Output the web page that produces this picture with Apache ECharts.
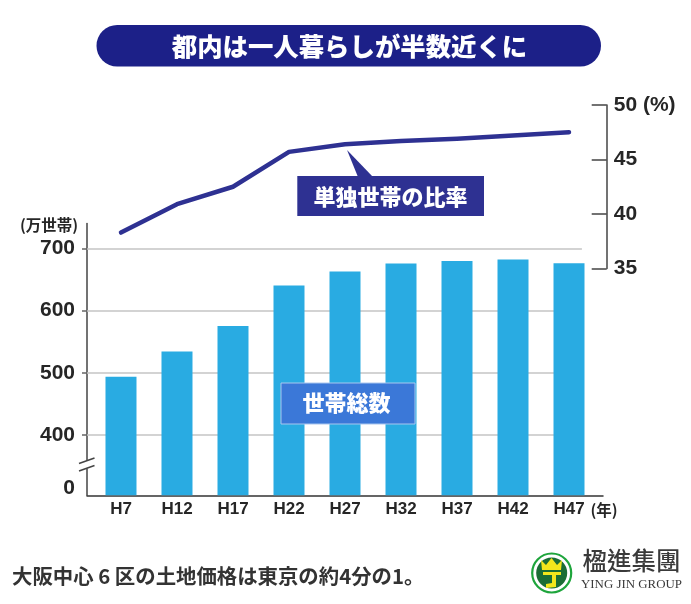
<!DOCTYPE html>
<html><head><meta charset="utf-8">
<style>html,body{margin:0;padding:0;background:#fff}#c{width:691px;height:604px}</style>
<script src="https://cdn.jsdelivr.net/npm/echarts@6/dist/echarts.min.js"></script>
</head><body><div id="c"></div>
<script>
const categories = ['H7','H12','H17','H22','H27','H32','H37','H42','H47'];
const households = [493.5,534,575,640,662.5,675.5,679.5,682,676];
const singleRatio = [38.3,40.9,42.5,45.7,46.4,46.7,46.9,47.2,47.5];
const leftTicks = [400,500,600,700];

const JP = '"Noto Sans CJK JP","Liberation Sans",sans-serif';
const NUM = '"Liberation Sans","Noto Sans CJK JP",sans-serif';
const INK = '#262626';
const xIdx = categories.map((_, i) => i);

function txt(text, x, y, size, fill, align, family, weight) {
  return {type:'text', z:60, style:{text, x, y, fill, fontSize:size, fontFamily:family||JP,
    fontWeight:weight||'bold', align:align||'center', verticalAlign:'middle'}};
}
function seg(x1,y1,x2,y2,color,w){
  return {type:'line', z:55, shape:{x1,y1,x2,y2}, style:{stroke:color,lineWidth:w}};
}

const chart = echarts.init(document.getElementById('c'), null, {renderer:'canvas'});
chart.setOption({
  animation:false,
  backgroundColor:'#fff',
  grid:[
    {left:87, width:516, top:223.5, height:271.8},
    {left:87, width:516, top:105, height:163.5}
  ],
  xAxis:[
    {type:'value', gridIndex:0, min:-0.607, max:8.607, splitLine:{show:false},
     axisLine:{show:true, onZero:false, lineStyle:{color:'#333', width:1.5}},
     axisTick:{show:false},
     axisLabel:{customValues:xIdx, formatter:v=>categories[v], margin:6,
       color:INK, fontSize:17, fontWeight:'bold', fontFamily:NUM, hideOverlap:false, showMinLabel:true, showMaxLabel:true}},
    {type:'value', gridIndex:1, min:-0.607, max:8.607, show:false, splitLine:{show:false}}
  ],
  yAxis:[
    {type:'value', gridIndex:0, min:303.1, max:739.8, splitLine:{show:false},
     axisLine:{show:true, onZero:false, lineStyle:{color:'#444', width:1.5}},
     axisTick:{show:true, customValues:leftTicks, length:5, lineStyle:{color:'#666', width:1.5}},
     axisLabel:{customValues:leftTicks, margin:12, color:INK, fontSize:21, fontWeight:'bold', fontFamily:NUM}},
    {type:'value', gridIndex:1, position:'right', offset:3.7, min:35, max:50, interval:5, splitLine:{show:false},
     axisLine:{show:true, onZero:false, lineStyle:{color:'#444', width:1.5}},
     axisTick:{show:true, inside:true, length:15, lineStyle:{color:'#444', width:1.5}},
     axisLabel:{margin:7, color:INK, fontSize:21, fontWeight:'bold', fontFamily:NUM,
       formatter:v=>v===50?'50 (%)':String(v)}}
  ],
  series:[
    {type:'bar', name:'世帯総数', xAxisIndex:0, yAxisIndex:0, z:3, barWidth:31,
     itemStyle:{color:'#29abe2'}, silent:true,
     data:households.map((v,i)=>[i,v]),
     markLine:{silent:true, symbol:'none', z:1, label:{show:false},
       lineStyle:{color:'#c4c4c4', width:1.5, type:'solid'},
       data:leftTicks.map(v=>[{coord:[-0.607,v]},{coord:[8.23,v]}])}},
    {type:'line', name:'単独世帯の比率', xAxisIndex:1, yAxisIndex:1, z:5, symbol:'none', silent:true,
     lineStyle:{color:'#2e3192', width:4.5, cap:'round', join:'round'},
     data:singleRatio.map((v,i)=>[i,v])}
  ],
  graphic:[
    {type:'rect', z:50, shape:{x:96.5,y:25,width:504.5,height:41.5,r:20.7}, style:{fill:'#1c2088'}},
    txt('都内は一人暮らしが半数近くに',349.5,46,25.4,'#fff',null,null,'900'),

    {type:'polygon', z:50, shape:{points:[[347,150],[358,177],[373,177]]}, style:{fill:'#2e3192'}},
    {type:'rect', z:50, shape:{x:297.3,y:176,width:186.7,height:40}, style:{fill:'#2e3192'}},
    txt('単独世帯の比率',390.5,197,22,'#fff',null,null,'900'),

    {type:'rect', z:50, shape:{x:281,y:383,width:134,height:41}, style:{fill:'#3b78d8',stroke:'#a9c6ee',lineWidth:1}},
    txt('世帯総数',346.5,403,22,'#fff',null,null,'900'),

    txt('(万世帯)',49,225,15.5,INK),
    txt('0',75,488,21,INK,'right',NUM),
    txt('(年)',604,510,15.5,INK),

    {type:'rect', z:52, shape:{x:84,y:461,width:6,height:7.5}, style:{fill:'#fff'}},
    seg(79,463.5,94.5,458,'#444',1.5),
    seg(79,471,94.5,465.5,'#444',1.5),

    txt('大阪中心 6 区の土地価格は東京の約4分の1。',12,576,20.4,'#333','left',JP,'bold'),

    {type:'circle', z:50, shape:{cx:551.7,cy:573,r:19.5}, style:{fill:'#fff',stroke:'#1ea53c',lineWidth:2.2}},
    {type:'circle', z:51, shape:{cx:551.7,cy:573,r:15.5}, style:{fill:'#1b6d35'}},
    {type:'polygon', z:52, shape:{points:[[541,560],[546,565],[551.5,558],[557,565],[562,560],[561,570],[542,570]]}, style:{fill:'#f3e61c'}},
    {type:'polygon', z:52, shape:{points:[[543,572],[561,572],[561,575],[556,575],[556,587],[546,588],[546,584],[552,583],[552,575],[543,575]]}, style:{fill:'#f3e61c'}},
    txt('楹進集團',631.5,561,24.5,'#3a3a3a','center','"Noto Sans CJK TC",serif','500'),
    txt('YING JIN GROUP',631.5,585,12.9,'#3a3a3a','center','"Liberation Serif",serif','normal')
  ]
});
</script></body></html>
